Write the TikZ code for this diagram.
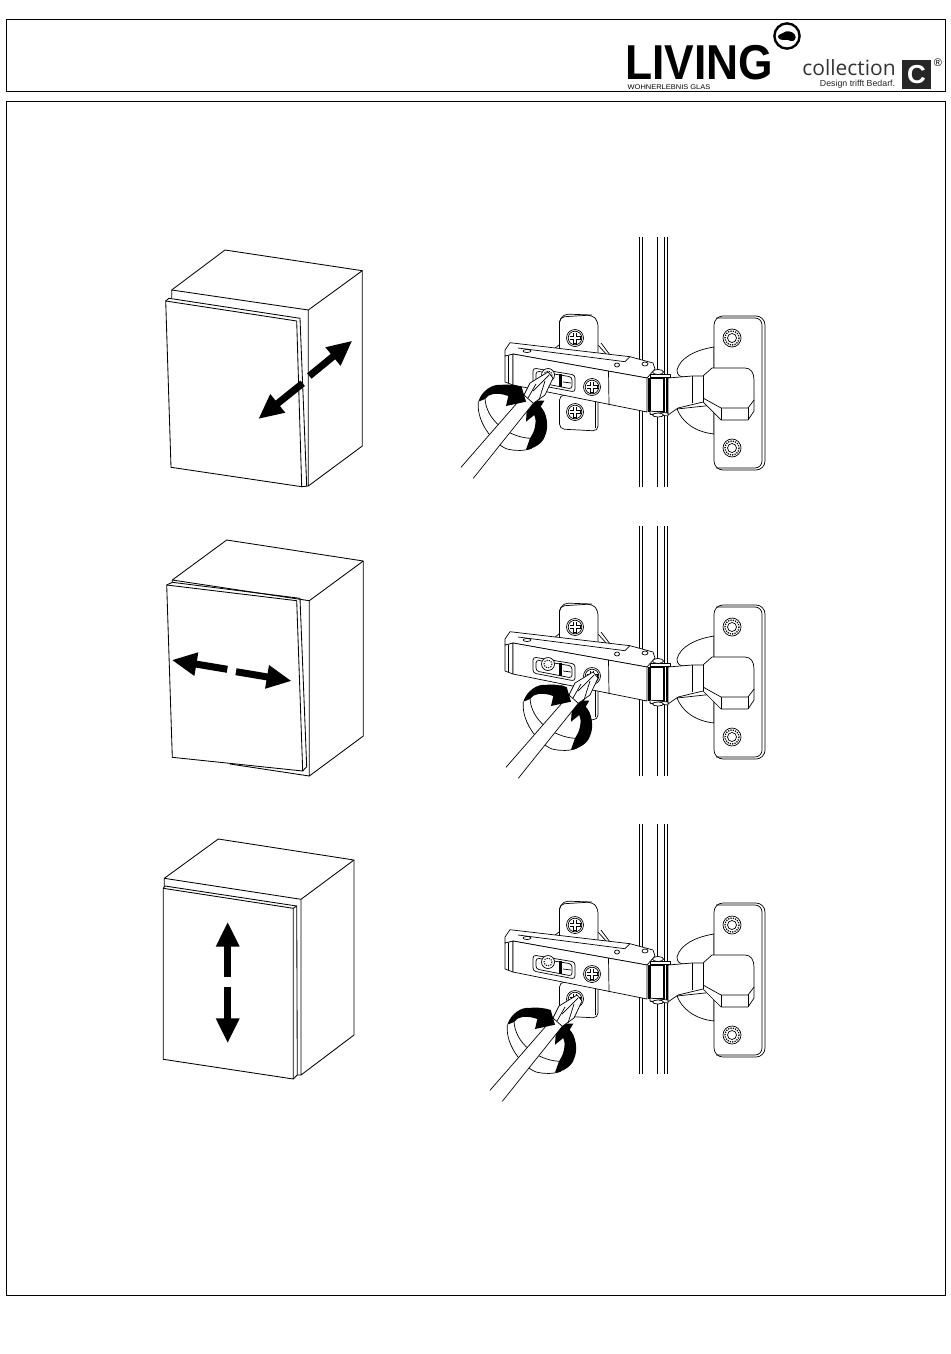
\documentclass[tikz,border=0pt]{standalone}
\usepackage{fontspec}
\setmainfont{Liberation Sans}
\newfontfamily\collfont{Open Sans}
\usetikzlibrary{arrows.meta}

\tikzset{
    frameline/.style={line width=0.8pt},
    cabline/.style={line width=0.85pt, line join=round},
    hingeline/.style={line width=0.7pt, line join=round},
    bigarrow/.style={line width=7pt, -{Triangle[length=25pt, width=22pt]}}
}

% cross head screw of the hinge arm
\newcommand{\crossscrew}[2]{
    \draw [hingeline, fill=white] (#1, #2) circle (8.5);
    \draw [hingeline] (#1, #2) circle (6.8);
    \draw [line width=3.2pt] (#1-5.5, #2) -- (#1+5.5, #2) (#1, #2-5.5) -- (#1, #2+5.5);
    \draw [white, line width=1.7pt] (#1-5, #2) -- (#1+5, #2) (#1, #2-5) -- (#1, #2+5);
}

% screw of the wall plate
\newcommand{\platescrew}[2]{
    \draw [hingeline] (#1, #2) circle (9);
    \draw [line width=1.3pt, dash pattern=on 1.2pt off 1.2pt] (#1, #2) circle (7);
    \draw [hingeline] (#1, #2) circle (4.5);
}

% hinge between the rails, drawn at its first position
\newcommand{\hingeview}{
    % rails
    \draw [hingeline] (639.5, 237) -- (639.5, 487);
    \draw [hingeline] (642, 237) -- (642, 487);
    \draw [hingeline] (657.5, 237) -- (657.5, 487);
    \draw [hingeline] (664.5, 237) -- (664.5, 487);
    \draw [hingeline] (667, 237) -- (667, 487);
    % wall plate and cup
    \draw [hingeline, fill=white] (714, 347) .. controls (695, 350) and (680, 358) .. (677, 370)
        .. controls (677, 375) and (680, 377) .. (684, 377) -- (714, 377) -- cycle;
    \draw [hingeline, fill=white] (714, 434) .. controls (695, 432) and (682, 422) .. (677, 409) -- (714, 405) -- cycle;
    \draw [hingeline, fill=white, rounded corners=9] (714, 316) -- (765, 316) -- (765, 470) -- (714, 470) -- cycle;
    \draw [hingeline, rounded corners=7] (716, 318) -- (762, 318) -- (762, 468) -- (716, 468);
    \platescrew{732}{338}
    \platescrew{732}{448}
    % arm on the plate
    \draw [hingeline, fill=white] (668, 378) -- (692, 376) -- (703, 376) -- (712, 368) -- (745, 368)
        .. controls (751, 368) and (754, 373) .. (754, 380) -- (754, 411) -- (748, 420) -- (721, 420)
        -- (703, 402) -- (678, 408) -- (668, 415) -- cycle;
    \draw [hingeline] (692, 376) -- (692, 403);
    \draw [hingeline] (703, 376) -- (703, 402);
    \draw [hingeline] (703, 398) -- (721, 408) -- (748, 408) -- (754, 400);
    \draw [hingeline] (721, 408) -- (721, 420);
    \draw [hingeline] (748, 408) -- (748, 420);
    % mounting plate, upper and lower
    \draw [hingeline] (598, 345) -- (607, 355);
    \draw [hingeline] (601, 343) -- (610, 355);
    \draw [hingeline] (559, 345) -- (550, 352);
    \draw [hingeline, fill=white, rounded corners=5] (559.5, 317) -- (592, 315) -- (598, 321) -- (598, 358) -- (559.5, 358) -- cycle;
    \draw [hingeline, rounded corners=5] (559.5, 322) -- (563, 314) -- (592, 315);
    \crossscrew{575}{338}
    \draw [hingeline, fill=white, rounded corners=5] (559.5, 395) -- (559.5, 429) -- (598, 431) -- (598, 395) -- cycle;
    \draw [hingeline] (595.5, 400) -- (595.5, 428);
    \crossscrew{575}{412}
    % arm seen from the front
    \draw [hingeline, fill=white] (505, 356) -- (505, 382) -- (513, 385) -- (513, 354) -- cycle;
    \draw [hingeline] (508.5, 356) -- (508.5, 383);
    \draw [hingeline, fill=white] (505, 350) -- (510, 342.7) -- (630, 356.7) -- (653, 363) -- (655, 369)
        -- (647, 378) -- (513, 354) -- (505, 356) -- cycle;
    \draw [hingeline] (518, 348) -- (625, 361.7) -- (630, 356.7);
    \draw [hingeline] (527, 351) ellipse (4 and 1.5);
    \draw [hingeline] (617, 365) ellipse (2.5 and 2);
    \draw [hingeline] (645, 364) ellipse (3 and 2);
    \draw [hingeline, fill=white] (513, 354) -- (647, 378) -- (647, 412) -- (513, 385) -- cycle;
    \draw [hingeline] (608.5, 371) -- (609, 405);
    \draw [hingeline, fill=white, rounded corners=3] (533, 368) -- (575, 375) -- (575, 392) -- (533, 384) -- cycle;
    \draw [hingeline, rounded corners=3] (536, 371) -- (572, 377) -- (572, 389) -- (536, 382) -- cycle;
    \draw [line width=2.2pt] (560.5, 374) -- (560.5, 387);
    \draw [hingeline] (563, 382) -- (571, 383);
    \draw [hingeline, fill=white] (548, 375) circle (6.5);
    \draw [line width=1pt, dash pattern=on 1.2pt off 1.2pt] (548, 375) circle (4);
    \crossscrew{592}{387}
    % link at the rail
    \draw [hingeline, fill=white] (650, 375) rectangle (666, 414);
    \draw [line width=1.5pt] (649, 378) -- (649, 412);
    \draw [line width=1.5pt] (664, 378) -- (664, 412);
    \draw [line width=0.9pt] (648, 378) -- (665, 378);
    \draw [line width=0.9pt] (648, 411) -- (665, 411);
    \draw [hingeline, fill=white] (650, 374) -- (670, 374) -- (670, 377) -- (650, 377) -- cycle;
    \draw [hingeline, fill=white] (658, 372) ellipse (5.5 and 2.5);
    \draw [hingeline, fill=white] (650, 411) -- (668, 413) -- (668, 416) -- (650, 414) -- cycle;
    \draw [hingeline, fill=white] (658, 415) ellipse (5.5 and 2);
}

% screwdriver with the turning arrow, zero is the point of the bit
\newcommand{\turntool}{
    \fill [white] (-69.7, 26.7) .. controls (-72, 50) and (-50, 72) .. (-39.7, 74.3) .. controls (-20, 78) and (-2, 65) .. (-1.3, 45)
        -- (-22, 26.7) -- (-45, 12) -- cycle;
    \draw [hingeline] (-69.7, 26.7) .. controls (-72, 50) and (-50, 72) .. (-39.7, 74.3) .. controls (-32, 76) and (-24, 76) .. (-16.3, 73.3);
    \draw [hingeline] (-63, 23.3) .. controls (-62, 45) and (-40, 62) .. (-18, 63.3);
    % lower arrow
    \fill (-22, 74.5) .. controls (-20, 74.5) and (-18, 74.3) .. (-16.3, 73.3) .. controls (-8, 70) and (-4, 65) .. (-3, 61)
        .. controls (-0.5, 55) and (-0.5, 50) .. (-1.3, 45) .. controls (-2, 40) and (-4, 35) .. (-7.3, 31.7)
        -- (-3.7, 25.7) -- (-20.7, 25.7) -- (-22, 46.7) -- (-13.7, 40) .. controls (-12, 45) and (-12, 48) .. (-13, 51.7)
        .. controls (-14, 57) and (-16, 60) .. (-18, 63.3) -- cycle;
    % handle and bit
    \fill [white] (-87, 92.3) -- (-24, 20) -- (-14.7, 28.3) -- (-74.7, 103.3) -- cycle;
    \draw [hingeline] (-87, 92.3) -- (-24, 20);
    \draw [hingeline] (-74.7, 103.3) -- (-14.7, 28.3);
    \draw [hingeline, fill=white] (-24, 20) -- (-18, 8) -- (0, -3) -- (5, 3) -- (-3, 20) -- (-14.7, 28.3) -- cycle;
    \draw [hingeline] (-20, 23) -- (-12, 9);
    \draw [hingeline] (-9, 25) -- (-3, 6);
    \draw [hingeline] (-15, 16) -- (1, 0);
    % upper arrow
    \fill (-69.7, 26.7) .. controls (-66, 15) and (-55, 9) .. (-48, 10) .. controls (-40, 9) and (-32, 10) .. (-26.3, 12)
        -- (-22, 26.7) -- (-42, 31) -- (-39.7, 21) .. controls (-45, 19) and (-50, 18.5) .. (-54.7, 19)
        .. controls (-58, 19.5) and (-61, 21) .. (-63, 24) -- cycle;
}

\begin{document}
\begin{tikzpicture}[x=1pt, y=-1pt]
    \useasboundingbox (0, 0) rectangle (950, 1354);

    % frames
    \draw [frameline] (6.5, 19.5) rectangle (945.5, 91.5);
    \draw [frameline] (6.5, 101.5) rectangle (945.5, 1295.5);

    % logo
    \node (living) at (699, 62) [inner sep=0, xscale=0.905, text height=36pt, text depth=0pt] {\fontsize{49}{49}\selectfont\bfseries LIVING};
    \node (glas) at (669, 87) [inner sep=0, xscale=1.1] {\fontsize{6.8}{6.8}\selectfont WOHNERLEBNIS GLAS};
    \draw [line width=2.4pt] (787, 36) circle (12.6);
    \fill (778, 37) .. controls (778, 34) and (782, 34) .. (783, 33) .. controls (786, 30) and (793, 31) .. (795, 35)
        .. controls (797, 38) and (794, 42) .. (791, 41) .. controls (788, 39) and (786, 40) .. (783, 40)
        .. controls (781, 40) and (778, 39) .. (778, 37) -- cycle;
    \node (collection) at (849, 68) [inner sep=0, color=black!80] {\fontsize{21}{21}\selectfont\collfont collection};
    \node (design) at (857.5, 84.5) [inner sep=0, color=black!85] {\fontsize{8.8}{8.8}\selectfont Design trifft Bedarf.};
    \node (cbox) at (916.5, 74.5) [minimum size=29pt, inner sep=0, fill=black!85, text=white] {\fontsize{26}{26}\selectfont\bfseries C};
    \node (regmark) at (938, 63) [inner sep=0] {\fontsize{11}{11}\selectfont ®};

    % first cabinet
    \draw [cabline] (171.7, 298) -- (171.7, 290) -- (225, 250) -- (362.3, 270.7) -- (308.3, 310);
    \draw [cabline] (362.3, 270.7) -- (362.3, 446) -- (308.3, 486) -- (308.3, 310);
    \draw [cabline] (171.7, 290) -- (308.3, 310);
    \draw [cabline] (169, 298.3) -- (300, 318.3) -- (306.7, 486);
    \draw [cabline] (165.7, 301) -- (169, 298.3);
    \draw [cabline] (165.7, 301) -- (296.7, 321) -- (301.7, 486.7) -- (171, 467.3) -- cycle;
    \draw [cabline] (301.7, 486.7) -- (308.3, 486);
    \draw [bigarrow] (302.7, 383.3) -- (258.3, 419);
    \draw [bigarrow] (309.3, 376) -- (352.3, 340.7);

    % second cabinet
    \draw [cabline] (172.3, 582.3) -- (172.3, 580) -- (226.7, 540) -- (363.3, 561) -- (309.3, 600.7) -- (172.3, 580);
    \draw [cabline] (363.3, 561) -- (363.3, 736) -- (309.3, 776) -- (309.3, 600.7);
    \draw [cabline] (172.3, 582.3) -- (300, 598.3) -- (306.7, 766.7) -- (302.7, 771);
    \draw [cabline] (166.7, 585) -- (172.3, 582.3);
    \draw [cabline] (166.7, 585) -- (296.7, 600.7) -- (302.7, 771) -- (172.3, 757.3) -- cycle;
    \draw [cabline] (230, 764) -- (309.3, 776);
    \draw [bigarrow] (227.3, 669.3) -- (171.7, 660);
    \draw [bigarrow] (236, 671.7) -- (291.7, 681);

    % third cabinet
    \draw [cabline] (164.3, 887) -- (164.3, 878.3) -- (218.3, 839) -- (354, 860) -- (301, 899.3);
    \draw [cabline] (164.3, 878.3) -- (301, 899.3);
    \draw [cabline] (354, 860) -- (354, 1035) -- (301, 1075) -- (301, 899.3);
    \draw [cabline] (165, 886) -- (296.7, 906) -- (297.3, 1075);
    \draw [cabline] (163.3, 888.3) -- (165, 886);
    \draw [cabline] (163.3, 888.3) -- (293.3, 908.3) -- (293.3, 1079) -- (163.3, 1059.3) -- cycle;
    \draw [cabline] (293.3, 1079) -- (297.3, 1075) -- (301, 1075);
    \draw [cabline] (293.3, 908.3) -- (296.7, 906);
    \draw [bigarrow] (227.7, 977.3) -- (227.7, 921.7);
    \draw [bigarrow] (227.7, 986.7) -- (227.7, 1043.3);

    % hinges
    \hingeview
    \begin{scope}[shift={(548, 375)}]
        \turntool
    \end{scope}
    \begin{scope}[shift={(0, 289)}]
        \hingeview
    \end{scope}
    \begin{scope}[shift={(593, 675)}]
        \turntool
    \end{scope}
    \begin{scope}[shift={(0, 587)}]
        \hingeview
    \end{scope}
    \begin{scope}[shift={(577, 998)}]
        \turntool
    \end{scope}
\end{tikzpicture}
\end{document}
